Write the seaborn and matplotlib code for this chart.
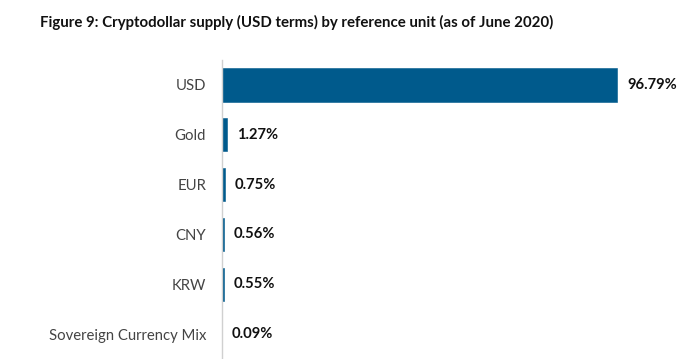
import pandas as pd
import matplotlib
matplotlib.use("Agg")
import matplotlib.pyplot as plt
import seaborn as sns

# Reference units and share of cryptodollar supply (%)
units = ["USD", "Gold", "EUR", "CNY", "KRW", "Sovereign Currency Mix"]
shares = [96.79, 1.27, 0.75, 0.56, 0.55, 0.09]

data = pd.DataFrame({"unit": units, "share": shares})

sns.set_style("white")
plt.rcParams["font.family"] = ["Lato", "DejaVu Sans"]

fig = plt.figure(figsize=(7, 3.59), dpi=100)
ax = fig.add_axes([222 / 700, 0, 1 - 222 / 700, 1 - 60 / 359])

sns.barplot(data=data, x="share", y="unit", color="#005a8c", width=0.67,
            saturation=1, edgecolor="#005a8c", linewidth=0.4, ax=ax)

ax.set_xlim(0, 117)
ax.set_ylim(5.5, -0.5)
ax.set_xlabel("")
ax.set_ylabel("")
ax.set_xticks([])

for s in ["top", "right", "bottom"]:
    ax.spines[s].set_visible(False)
ax.spines["left"].set_color("#d0d0d0")
ax.spines["left"].set_linewidth(1.0)
ax.spines["left"].set_zorder(5)

ax.tick_params(axis="y", length=0, pad=11.5, labelsize=10.7, labelcolor="#444444")

# value labels
for i, v in enumerate(shares):
    ax.annotate(f"{v:.2f}%", xy=(v, i), xytext=(7, 0), textcoords="offset points",
                va="center", ha="left", fontsize=10.6, fontweight="bold", color="#111111")

fig.text(40 / 700, 1 - 22 / 359, "Figure 9: Cryptodollar supply (USD terms) by reference unit (as of June 2020)",
         fontsize=10.8, fontweight="bold", color="#111111", va="center", ha="left")

fig.savefig("out.png", dpi=100)
